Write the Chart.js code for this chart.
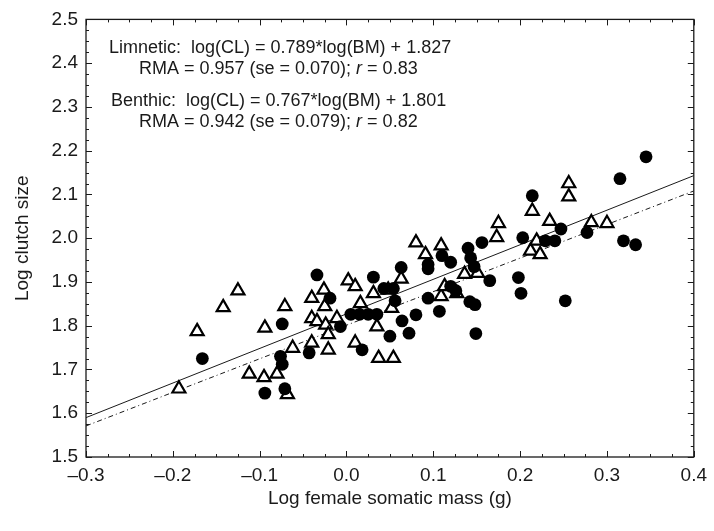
<!DOCTYPE html>
<html>
<head>
<meta charset="utf-8">
<script src="https://cdn.jsdelivr.net/npm/chart.js@4/dist/chart.umd.min.js"></script>
<style>
  html, body { margin: 0; padding: 0; background: #fff; }
  #wrap { width: 714px; height: 531px; }
</style>
</head>
<body>
<div id="wrap"><canvas id="c" width="714" height="531"></canvas></div>
<script>
// ---- Data ----
const xTickValues = [-0.3, -0.2, -0.1, 0.0, 0.1, 0.2, 0.3, 0.4];
const xTickLabels = ['–0.3', '–0.2', '–0.1', '0.0', '0.1', '0.2', '0.3', '0.4'];
const yTickValues = [1.5, 1.6, 1.7, 1.8, 1.9, 2.0, 2.1, 2.2, 2.3, 2.4, 2.5];
const yTickLabels = ['1.5', '1.6', '1.7', '1.8', '1.9', '2.0', '2.1', '2.2', '2.3', '2.4', '2.5'];

// open triangles
const triX = [-0.193, -0.172, -0.142, -0.125, -0.112, -0.095, -0.094, -0.080, -0.071, -0.068,
              -0.062, -0.040, -0.040, -0.034, -0.024, -0.025, -0.026, -0.040, -0.021, -0.021,
              -0.011, 0.002, 0.010, 0.010, 0.016, 0.031, 0.035, 0.037, 0.048, 0.052,
              0.054, 0.063, 0.080, 0.091, 0.109, 0.109, 0.113, 0.127, 0.136, 0.151,
              0.173, 0.175, 0.212, 0.214, 0.219, 0.223, 0.234, 0.256, 0.256, 0.282, 0.300];
const triY = [1.656, 1.787, 1.842, 1.880, 1.690, 1.682, 1.795, 1.690, 1.844, 1.643,
              1.749, 1.863, 1.817, 1.810, 1.802, 1.844, 1.882, 1.761, 1.780, 1.745,
              1.817, 1.903, 1.890, 1.761, 1.851, 1.874, 1.798, 1.726, 1.882, 1.840,
              1.726, 1.907, 1.990, 1.963, 1.983, 1.867, 1.890, 1.874, 1.918, 1.920,
              2.002, 2.034, 1.971, 2.062, 1.994, 1.963, 2.039, 2.095, 2.125, 2.036, 2.034];

// filled circles
const dotX = [-0.166, -0.094, -0.074, -0.076, -0.074, -0.071, -0.034, -0.019, -0.007, -0.043,
              0.005, 0.015, 0.025, 0.035, 0.018, 0.031, 0.043, 0.054, 0.050, 0.063,
              0.056, 0.064, 0.072, 0.080, 0.094, 0.094, 0.094, 0.107, 0.110, 0.120,
              0.120, 0.126, 0.140, 0.143, 0.147, 0.142, 0.148, 0.149, 0.156, 0.165,
              0.198, 0.201, 0.203, 0.214, 0.229, 0.240, 0.247, 0.252, 0.277, 0.315,
              0.319, 0.333, 0.345];
const dotY = [1.725, 1.646, 1.804, 1.730, 1.712, 1.656, 1.916, 1.863, 1.798, 1.738,
              1.826, 1.826, 1.826, 1.826, 1.745, 1.911, 1.885, 1.885, 1.776, 1.933,
              1.857, 1.811, 1.783, 1.825, 1.940, 1.930, 1.863, 1.833, 1.960, 1.945,
              1.890, 1.880, 1.977, 1.955, 1.935, 1.855, 1.848, 1.782, 1.990, 1.903,
              1.910, 1.874, 2.001, 2.097, 1.994, 1.994, 2.021, 1.857, 2.013, 2.136,
              1.994, 1.985, 2.186];

// regression lines (end points)
const lineX = [-0.3, 0.4];
const limneticLineY = [1.590, 2.143];
const benthicLineY = [1.571, 2.108];

const annotationLines = [
  'Limnetic:  log(CL) = 0.789*log(BM) + 1.827',
  ['RMA = 0.957 (se = 0.070); ', 'r', ' = 0.83'],
  'Benthic:  log(CL) = 0.767*log(BM) + 1.801',
  ['RMA = 0.942 (se = 0.079); ', 'r', ' = 0.82']
];

const FONT = "'Liberation Sans', Arial, sans-serif";
const INK = '#1a1a1a';

function pts(xs, ys) { return xs.map((x, i) => ({ x: x, y: ys[i] })); }

// ---- plugin: frame + inward ticks + equations text ----
const framePlugin = {
  id: 'frame',
  afterDatasetsDraw(chart) {
    const { ctx, chartArea: a, scales: { x, y } } = chart;
    ctx.save();
    ctx.strokeStyle = INK;
    ctx.lineWidth = 1.3;
    ctx.strokeRect(a.left, a.top, a.right - a.left, a.bottom - a.top);
    ctx.lineWidth = 1;
    ctx.beginPath();
    for (let k = 0; k < xTickValues.length; k++) {
      for (let s = 0; s < 4; s++) {
        if (k === xTickValues.length - 1 && s > 0) break;
        const v = xTickValues[k] + s * 0.025;
        const px = Math.round(x.getPixelForValue(v)) + 0.5;
        const len = s === 0 ? 6 : 3;
        ctx.moveTo(px, a.bottom); ctx.lineTo(px, a.bottom - len);
        ctx.moveTo(px, a.top); ctx.lineTo(px, a.top + len);
      }
    }
    for (let k = 0; k < yTickValues.length; k++) {
      for (let s = 0; s < 4; s++) {
        if (k === yTickValues.length - 1 && s > 0) break;
        const v = yTickValues[k] + s * 0.025;
        const py = Math.round(y.getPixelForValue(v)) + 0.5;
        const len = s === 0 ? 6 : 3;
        ctx.moveTo(a.left, py); ctx.lineTo(a.left + len, py);
        ctx.moveTo(a.right, py); ctx.lineTo(a.right - len, py);
      }
    }
    ctx.stroke();

    // equations
    ctx.fillStyle = INK;
    ctx.textBaseline = 'middle';
    ctx.textAlign = 'left';
    const fs = 18;
    const normal = fs + 'px ' + FONT;
    const italic = 'italic ' + fs + 'px ' + FONT;
    const ys = [48, 69, 101, 122];
    const leftX = [109, 139, 111, 139];
    annotationLines.forEach((ln, i) => {
      if (typeof ln === 'string') {
        ctx.font = normal;
        ctx.fillText(ln, leftX[i], ys[i]);
      } else {
        let sx = leftX[i];
        ctx.font = normal; ctx.fillText(ln[0], sx, ys[i]); sx += ctx.measureText(ln[0]).width;
        ctx.font = italic; ctx.fillText(ln[1], sx, ys[i]); sx += ctx.measureText(ln[1]).width;
        ctx.font = normal; ctx.fillText(ln[2], sx, ys[i]);
      }
    });
    ctx.restore();
  }
};

new Chart(document.getElementById('c'), {
  type: 'scatter',
  data: {
    datasets: [
      {
        label: 'Limnetic regression',
        type: 'line',
        data: pts(lineX, limneticLineY),
        borderColor: INK, borderWidth: 1, pointRadius: 0, fill: false,
        order: 4
      },
      {
        label: 'Benthic regression',
        type: 'line',
        data: pts(lineX, benthicLineY),
        borderColor: INK, borderWidth: 1, borderDash: [5, 3, 1, 3], pointRadius: 0, fill: false,
        order: 3
      },
      {
        label: 'Triangles',
        data: pts(triX, triY),
        pointStyle: 'triangle', pointRadius: 7.5,
        backgroundColor: '#ffffff', borderColor: '#000', borderWidth: 2.2,
        order: 2
      },
      {
        label: 'Circles',
        data: pts(dotX, dotY),
        pointStyle: 'circle', pointRadius: 6.4,
        backgroundColor: '#000', borderColor: '#000', borderWidth: 0,
        order: 1
      }
    ]
  },
  options: {
    responsive: false,
    animation: false,
    events: [],
    layout: { padding: { top: 19, right: 16, left: 0, bottom: 0 } },
    plugins: { legend: { display: false }, tooltip: { enabled: false } },
    scales: {
      x: {
        type: 'linear', min: -0.3, max: 0.4,
        afterFit(s) { s.height = 74; },
        afterBuildTicks(s) { s.ticks = xTickValues.map(v => ({ value: v })); },
        grid: { display: false, drawTicks: false },
        border: { display: false },
        ticks: {
          padding: 7, color: INK, font: { family: FONT, size: 19 },
          callback: (v, i) => xTickLabels[i]
        },
        title: {
          display: true, text: 'Log female somatic mass (g)', color: INK,
          font: { family: FONT, size: 19 }, padding: { top: 0, bottom: 21 }
        }
      },
      y: {
        type: 'linear', min: 1.5, max: 2.5,
        afterFit(s) { s.width = 86; },
        afterBuildTicks(s) { s.ticks = yTickValues.map(v => ({ value: v })); },
        grid: { display: false, drawTicks: false },
        border: { display: false },
        ticks: {
          padding: 8, color: INK, font: { family: FONT, size: 19 },
          callback: (v, i) => yTickLabels[i]
        },
        title: {
          display: true, text: 'Log clutch size', color: INK,
          font: { family: FONT, size: 19 }, padding: { top: 11, bottom: 0 }
        }
      }
    }
  },
  plugins: [framePlugin]
});
</script>
</body>
</html>
